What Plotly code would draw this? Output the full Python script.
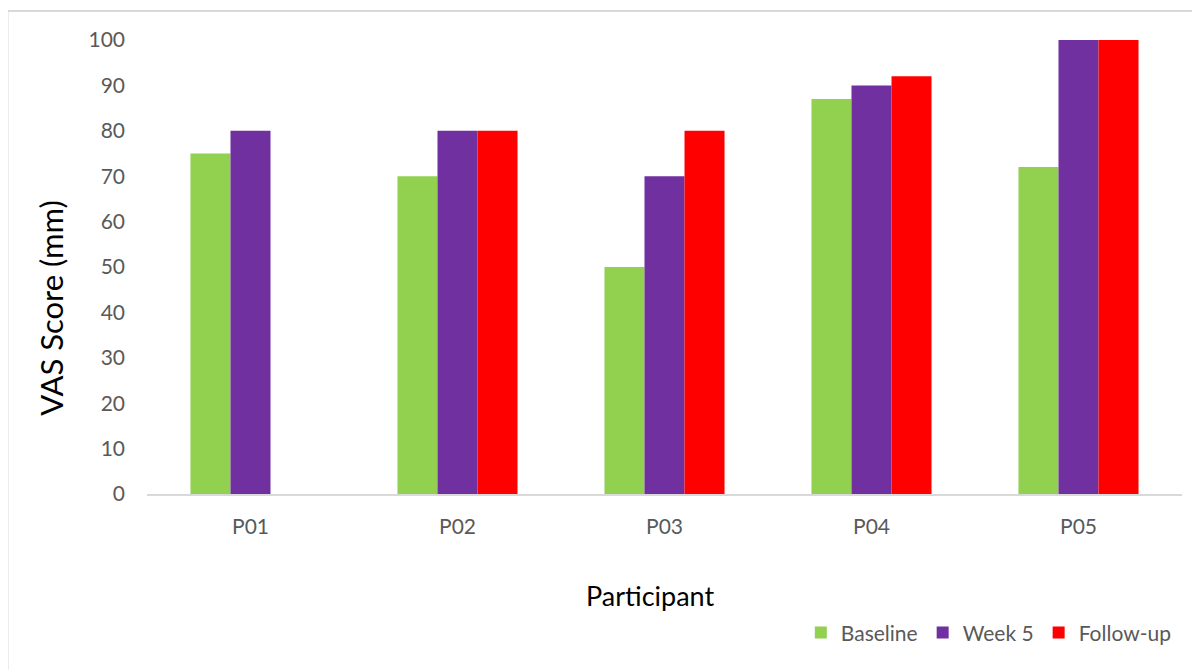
import plotly.graph_objects as go

participants = ["P01", "P02", "P03", "P04", "P05"]
baseline = [75, 70, 50, 87, 72]
week5 = [80, 80, 70, 90, 100]
followup = [None, 80, 80, 92, 100]

series_names = ["Baseline", "Week 5", "Follow-up"]
colors = ["#92D050", "#7030A0", "#FF0000"]
y_ticks = [0, 10, 20, 30, 40, 50, 60, 70, 80, 90, 100]

FONT = "Lato, Carlito, Calibri, sans-serif"
GRAY = "#595959"

fig = go.Figure()
for name, vals, col in zip(series_names, [baseline, week5, followup], colors):
    fig.add_trace(go.Bar(x=participants, y=vals, name=name, marker=dict(color=col, line=dict(width=0))))

fig.update_layout(
    width=1192, height=662,
    barmode="group", bargap=0.42, bargroupgap=0,
    plot_bgcolor="white", paper_bgcolor="white",
    margin=dict(l=139, r=18, t=32, b=176),
    font=dict(family=FONT, color=GRAY, size=21),
    showlegend=True,
    legend=dict(orientation="h", x=0.995, xanchor="right", y=-0.306, yanchor="middle",
                font=dict(size=21, color=GRAY), itemwidth=30, tracegroupgap=0),
    xaxis=dict(showgrid=False, showline=True, linecolor="#D9D9D9", linewidth=2,
               ticks="", tickfont=dict(size=21, color=GRAY), ticklabelstandoff=13),
    yaxis=dict(range=[0, 100], tickvals=y_ticks, showgrid=False, zeroline=False, showline=False,
               ticks="", tickfont=dict(size=21, color=GRAY), ticklabelstandoff=21),
    annotations=[
        dict(text="Participant", xref="paper", yref="paper", x=0.486, y=-0.2225,
             xanchor="center", yanchor="middle",
             showarrow=False, font=dict(size=27, color="black", family=FONT)),
        dict(text="VAS Score (mm)", xref="paper", yref="paper", x=-0.0928, y=0.41,
             xanchor="center", yanchor="middle",
             textangle=-90, showarrow=False, font=dict(size=31, color="black", family=FONT)),
    ],
    shapes=[
        dict(type="line", xref="paper", yref="paper", x0=-0.1348, x1=-0.1348, y0=1.0639, y1=-0.5,
             line=dict(color="#D9D9D9", width=2)),
        dict(type="line", xref="paper", yref="paper", x0=-0.1348, x1=1.1, y0=1.0639, y1=1.0639,
             line=dict(color="#D9D9D9", width=2)),
    ],
)

fig.write_html("out.html")
